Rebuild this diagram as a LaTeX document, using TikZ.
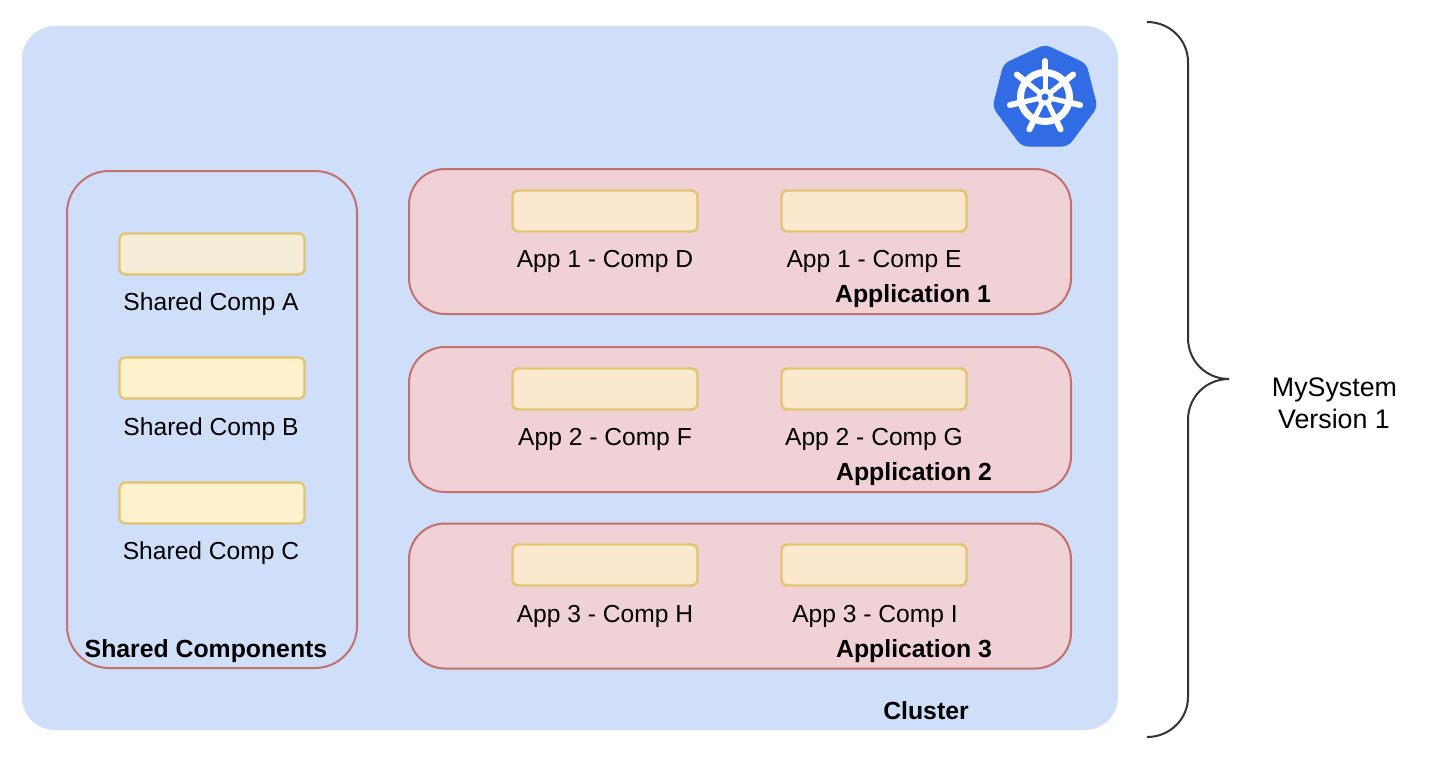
\documentclass[tikz,border=0pt]{standalone}
\usepackage{fontspec}
\setmainfont{Liberation Sans}
\definecolor{clusterblue}{HTML}{CFDFF9}
\definecolor{appred}{HTML}{F0D1D5}
\definecolor{redline}{HTML}{C2716F}
\definecolor{yellowline}{HTML}{E0C46F}
\definecolor{compA}{HTML}{F5EDD8}
\definecolor{compY}{HTML}{FFF1CC}
\definecolor{compO}{HTML}{FAE8CF}
\definecolor{logoblue}{HTML}{326CE5}
\tikzset{
  box/.style={rectangle,inner sep=0pt,outer sep=0pt},
  cluster/.style={box,fill=clusterblue,minimum width=1096pt,minimum height=704pt,rounded corners=33pt},
  shared/.style={box,draw=redline,line width=2pt,minimum width=290pt,minimum height=497pt,rounded corners=42pt},
  app/.style={box,draw=redline,fill=appred,line width=2pt,minimum width=662pt,minimum height=145pt,rounded corners=36pt},
  comp/.style={box,draw=yellowline,line width=2.4pt,minimum width=185pt,minimum height=41pt,rounded corners=6pt},
  lbl/.style={inner sep=0pt,text height=16pt,text depth=0pt,font=\fontsize{24.6}{30}\selectfont},
  title/.style={lbl,font=\fontsize{24.8}{30}\selectfont\bfseries},
  sidelbl/.style={lbl,font=\fontsize{26.8}{32}\selectfont}
}
\begin{document}
\begin{tikzpicture}[x=1pt,y=-1pt]
\useasboundingbox (0,0) rectangle (1430,763);

\node[cluster] (cluster) at (570,378) {};
\node[title] (clusterlbl) at (926,711) {Cluster};

\filldraw[logoblue,line width=1pt,rounded corners=6pt] (1045,45) -- (1086,64) -- (1097,107) -- (1068,146) -- (1022,146) -- (993,107) -- (1004,64) -- cycle;
\draw[white,line width=7pt] (1045,97) circle (24.5);
\foreach \a in {90,38.57,-12.86,-64.29,-115.71,-167.14,141.43} {
  \draw[white,line width=5pt] (1045,97) -- ({1045+27*cos(\a)},{97-27*sin(\a)});
  \draw[white,line width=6pt,line cap=round] ({1045+27*cos(\a)},{97-27*sin(\a)}) -- ({1045+36*cos(\a)},{97-36*sin(\a)});
}
\fill[white] (1045,97) circle (8.5);
\fill[logoblue] (1045,97) circle (3.5);

\node[shared] (sharedbox) at (212,419.5) {};
\node[title] (sharedlbl) at (206,649) {Shared Components};
\node[comp,fill=compA] (compa) at (212,254) {};
\node[lbl] (compalbl) at (211,302.5) {Shared Comp A};
\node[comp,fill=compY] (compb) at (212,378) {};
\node[lbl] (compblbl) at (211,427.5) {Shared Comp B};
\node[comp,fill=compY] (compc) at (212,503) {};
\node[lbl] (compclbl) at (211,551.5) {Shared Comp C};

\node[app] (app1) at (740,241.5) {};
\node[comp,fill=compO] (compd) at (605,211) {};
\node[lbl] (compdlbl) at (605,259.5) {App 1 - Comp D};
\node[comp,fill=compO] (compe) at (874,211) {};
\node[lbl] (compelbl) at (874,259.5) {App 1 - Comp E};
\node[title] (app1lbl) at (913,294.5) {Application 1};

\node[app] (app2) at (740,419.5) {};
\node[comp,fill=compO] (compf) at (605,389) {};
\node[lbl] (compflbl) at (605,437.5) {App 2 - Comp F};
\node[comp,fill=compO] (compg) at (874,389) {};
\node[lbl] (compglbl) at (874,437.5) {App 2 - Comp G};
\node[title] (app2lbl) at (914,472.5) {Application 2};

\node[app] (app3) at (740,596) {};
\node[comp,fill=compO] (comph) at (605,565) {};
\node[lbl] (comphlbl) at (605,614.5) {App 3 - Comp H};
\node[comp,fill=compO] (compi) at (874,565) {};
\node[lbl] (compilbl) at (875,614.5) {App 3 - Comp I};
\node[title] (app3lbl) at (914,649) {Application 3};

\draw[black!80,line width=2pt] (1147,22) .. controls (1170,22) and (1188,40) .. (1188,62) -- (1188,338) .. controls (1188,361) and (1206,379) .. (1229,379) .. controls (1206,379) and (1188,397) .. (1188,420) -- (1188,697) .. controls (1188,719) and (1170,737) .. (1147,737);
\node[sidelbl] (syslbl) at (1334.5,388.5) {MySystem};
\node[sidelbl] (verlbl) at (1334,420.5) {Version 1};
\end{tikzpicture}
\end{document}
